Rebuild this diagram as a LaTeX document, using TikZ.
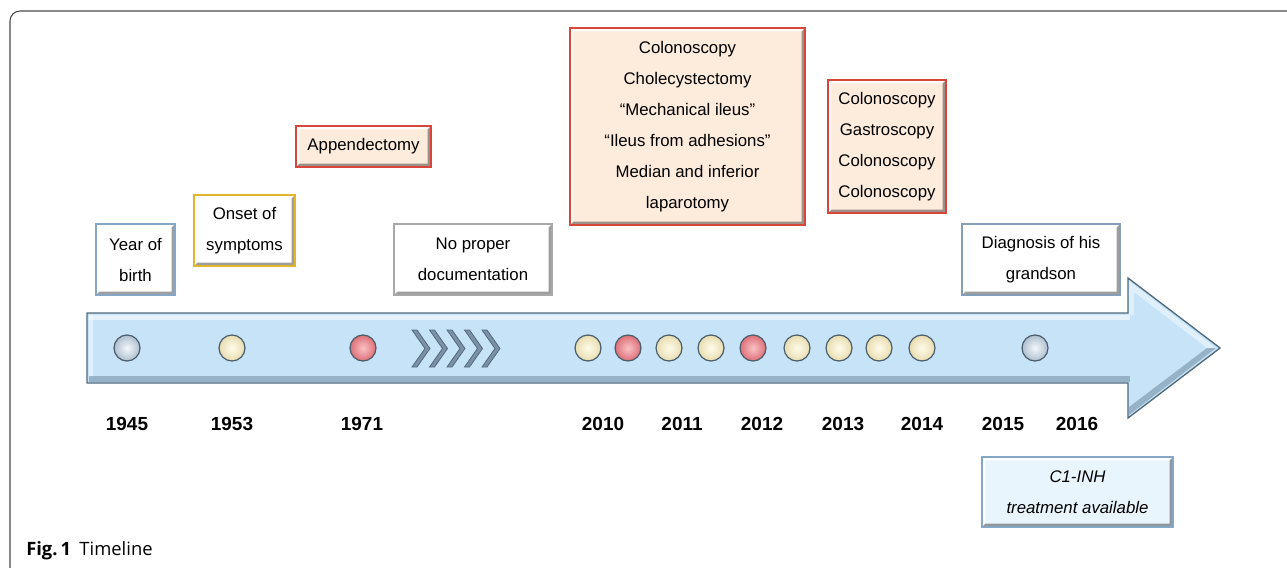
\documentclass[tikz,border=0pt]{standalone}
\usepackage{fontspec}
\setmainfont{Liberation Sans}
\newfontfamily\capfont{Open Sans}
\usetikzlibrary{calc}
\definecolor{peach}{HTML}{FDEBDC}
\definecolor{redb}{HTML}{D8453B}
\definecolor{yelb}{HTML}{E2B62C}
\definecolor{grayb}{HTML}{A8A8A8}
\definecolor{blueb}{HTML}{86A6C6}
\definecolor{c1fill}{HTML}{E9F5FD}
\definecolor{arrfill}{HTML}{C6E3F8}
\definecolor{arrline}{HTML}{506A7D}
\definecolor{chev}{HTML}{7C91A5}
\definecolor{creamin}{HTML}{FFFBEA}
\definecolor{creamout}{HTML}{E8DDB0}
\definecolor{pinkin}{HTML}{F8C2C4}
\definecolor{pinkout}{HTML}{DE6F78}
\definecolor{bluein}{HTML}{F4F8FB}
\definecolor{blueout}{HTML}{AEBFCF}
\definecolor{dotline}{HTML}{4A5C69}
\definecolor{framec}{HTML}{4A4A4A}
\tikzset{
  bevel/.style={path picture={
    \fill[white,opacity=.85] (path picture bounding box.south west) -- (path picture bounding box.north west) -- (path picture bounding box.north east) -- ([shift={(-2.6pt,-2.6pt)}]path picture bounding box.north east) -- ([shift={(2.6pt,-2.6pt)}]path picture bounding box.north west) -- ([shift={(2.6pt,2.6pt)}]path picture bounding box.south west) -- cycle;
    \fill[black,opacity=.38] (path picture bounding box.south west) -- (path picture bounding box.south east) -- (path picture bounding box.north east) -- ([shift={(-2.6pt,-2.6pt)}]path picture bounding box.north east) -- ([shift={(-2.6pt,2.6pt)}]path picture bounding box.south east) -- ([shift={(2.6pt,2.6pt)}]path picture bounding box.south west) -- cycle;
  }},
  evt/.style={rectangle, align=center, inner sep=0pt, line width=1.3pt, font=\fontsize{12.6}{23.25}\selectfont, bevel},
  year/.style={font=\bfseries\fontsize{14.2}{16}\selectfont, inner sep=0pt},
  dot/.style={circle, minimum size=19.5pt, inner sep=0pt, draw=dotline, line width=0.9pt},
  cream/.style={dot, inner color=creamin, outer color=creamout},
  pink/.style={dot, inner color=pinkin, outer color=pinkout},
  bdot/.style={dot, inner color=bluein, outer color=blueout},
}
\begin{document}
\begin{tikzpicture}[x=0.75pt,y=-0.75pt]
\useasboundingbox (0,0) rectangle (1287,567);
% frame
\draw[framec, line width=0.8pt, rounded corners=7.5pt] (10,580) -- (10,11) -- (1300,11);
\node[anchor=base west, inner sep=0pt] (cap) at (26,555) {\capfont\fontsize{13.8}{16}\selectfont\textbf{Fig.\,1}\hspace{0.45em}Timeline};

% arrow
\draw[fill=arrfill, draw=arrline, line width=1pt, line join=miter]
  (87,313) -- (1128,313) -- (1128,278) -- (1220,348) -- (1128,418) -- (1128,383) -- (87,383) -- cycle;
\fill[white,opacity=.55] (89,315) rectangle (1130,320);
\fill[white,opacity=.45] (88.5,315) rectangle (93,377);
\fill[arrline,opacity=.4] (88.5,376) rectangle (1130,382);
\fill[white,opacity=.45] (1129,281) -- (1216,348) -- (1207,348) -- (1134,292) -- (1134,315) -- (1129,315) -- cycle;
\fill[arrline,opacity=.4] (1216,348) -- (1129,415) -- (1129,407) -- (1207,348) -- cycle;

% chevrons
\foreach \i in {0,...,4}{
  \fill[chev, draw=arrline, line width=0.6pt, line join=miter] (412+17.5*\i,330) -- (417+17.5*\i,330) -- (430+17.5*\i,348.5) -- (417+17.5*\i,367) -- (412+17.5*\i,367) -- (425+17.5*\i,348.5) -- cycle;
}

% dots
\node[bdot] (d1945) at (127,348) {};
\node[cream] (d1953) at (232,348) {};
\node[pink] (d1971) at (363,348) {};
\node[cream] (da) at (588,348) {};
\node[pink] (db) at (628,348) {};
\node[cream] (dc) at (669,348) {};
\node[cream] (dd) at (711,348) {};
\node[pink] (de) at (753,348) {};
\node[cream] (df) at (797,348) {};
\node[cream] (dg) at (839,348) {};
\node[cream] (dh) at (879,348) {};
\node[cream] (di) at (922,348) {};
\node[bdot] (dj) at (1035,348) {};

% years
\node[year] (y1945) at (127,424) {1945};
\node[year] (y1953) at (232,424) {1953};
\node[year] (y1971) at (362,424) {1971};
\node[year] (y2010) at (603,424) {2010};
\node[year] (y2011) at (682,424) {2011};
\node[year] (y2012) at (762,424) {2012};
\node[year] (y2013) at (843,424) {2013};
\node[year] (y2014) at (922,424) {2014};
\node[year] (y2015) at (1003,424) {2015};
\node[year] (y2016) at (1077,424) {2016};

% event boxes
\node[evt, draw=blueb, fill=white, minimum width=59.25pt, minimum height=53.25pt] (birth) at (135.5,259.5) {Year of\\birth};
\node[evt, draw=yelb, fill=white, minimum width=75.75pt, minimum height=53.25pt] (onset) at (244.5,230.5) {Onset of\\symptoms};
\node[evt, draw=redb, fill=peach, minimum width=101.25pt, minimum height=30.75pt] (append) at (363.5,146.5) {Appendectomy};
\node[evt, draw=grayb, fill=white, minimum width=118.5pt, minimum height=53.25pt] (nodoc) at (473,259.5) {No proper\\documentation};
\node[evt, draw=redb, fill=peach, minimum width=176.25pt, minimum height=147.75pt] (big) at (687.5,126.5) {Colonoscopy\\Cholecystectomy\\“Mechanical ileus”\\“Ileus from adhesions”\\Median and inferior\\laparotomy};
\node[evt, draw=redb, fill=peach, minimum width=88.5pt, minimum height=99.75pt] (small) at (887,146.5) {Colonoscopy\\Gastroscopy\\Colonoscopy\\Colonoscopy};
\node[evt, draw=blueb!80!gray, fill=white, minimum width=118.5pt, minimum height=53.25pt] (diag) at (1041,259.5) {Diagnosis of his\\grandson};
\node[evt, draw=blueb, fill=c1fill, minimum width=143.25pt, minimum height=52.5pt, font=\itshape\fontsize{12.6}{23.25}\selectfont] (c1) at (1077.5,492) {C1-INH\\treatment available};
\end{tikzpicture}
\end{document}
